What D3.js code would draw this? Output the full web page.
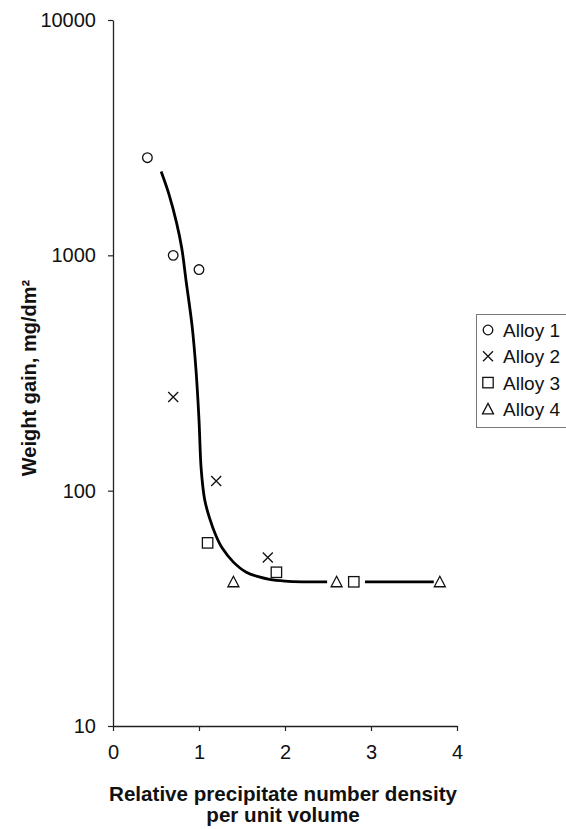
<!DOCTYPE html>
<html>
<head>
<meta charset="utf-8">
<script src="https://cdn.jsdelivr.net/npm/d3@7"></script>
<style>
  html, body { margin: 0; padding: 0; background: #fff; }
  svg { display: block; font-family: "Liberation Sans", Arial, sans-serif; }
</style>
</head>
<body>
<svg id="chart" width="566" height="829"></svg>
<script>
// ---- data ----
const seriesNames = ["Alloy 1", "Alloy 2", "Alloy 3", "Alloy 4"];
const alloy1X = [0.4, 0.7, 1.0];
const alloy1Y = [2600, 1000, 870];
const alloy2X = [0.7, 1.2, 1.8];
const alloy2Y = [250, 110, 52];
const alloy3X = [1.1, 1.9, 2.8];
const alloy3Y = [60, 45, 41];
const alloy4X = [1.4, 2.6, 3.8];
const alloy4Y = [41, 41, 41];
// fitted trend line, drawn in two pieces
const curve1X = [0.56, 0.65, 0.74, 0.80, 0.85, 0.92, 0.965, 1.0, 1.025, 1.065, 1.12, 1.2, 1.27, 1.4, 1.55, 1.7, 1.82, 2.0, 2.2, 2.49];
const curve1Y = [2270, 1820, 1370, 1070, 778, 500, 326, 200, 124, 92, 77, 64, 57, 49.7, 45, 43, 42, 41.3, 41, 41];
const curve2X = [2.93, 3.73];
const curve2Y = [41, 41];
const xTicks = [0, 1, 2, 3, 4];
const yTicks = [10, 100, 1000, 10000];
const xTitle1 = "Relative precipitate number density";
const xTitle2 = "per unit volume";
const yTitle = "Weight gain, mg/dm²";

// ---- layout ----
const svg = d3.select("#chart");
const x = d3.scaleLinear().domain([0, 4]).range([113, 457]);
const y = d3.scaleLog().domain([10, 10000]).range([726, 20]);

// axes
const xAxis = d3.axisBottom(x).tickValues(xTicks).tickFormat(d3.format("d")).tickSizeInner(5).tickSizeOuter(0).tickPadding(14);
const yAxis = d3.axisLeft(y).tickValues(yTicks).tickFormat(d3.format("d")).tickSizeInner(5).tickSizeOuter(0).tickPadding(12);

const gx = svg.append("g").attr("transform", `translate(0,${y(10)})`).call(xAxis);
const gy = svg.append("g").attr("transform", `translate(${x(0)},0)`).call(yAxis);
[gx, gy].forEach(g => {
  g.select(".domain").attr("stroke", "#222").attr("stroke-width", 1.3);
  g.selectAll(".tick line").attr("stroke", "#222").attr("stroke-width", 1.2);
  g.selectAll(".tick text").attr("fill", "#111").style("font-size", "20px").style("font-family", "'Liberation Sans', Arial, sans-serif");
});
gx.selectAll(".tick text").attr("dy", "0.71em");

// axis titles
svg.append("text").attr("x", 283).attr("y", 801).attr("text-anchor", "middle")
  .style("font-size", "20.6px").style("font-weight", "bold").attr("fill", "#111").text(xTitle1);
svg.append("text").attr("x", 283).attr("y", 822).attr("text-anchor", "middle")
  .style("font-size", "20.6px").style("font-weight", "bold").attr("fill", "#111").text(xTitle2);
svg.append("text").attr("transform", "translate(36,378) rotate(-90)").attr("text-anchor", "middle")
  .style("font-size", "20px").style("font-weight", "bold").attr("fill", "#111").text(yTitle);

// trend line
const line = d3.line().x(d => x(d[0])).y(d => y(d[1])).curve(d3.curveCatmullRom.alpha(0.5));
[[curve1X, curve1Y], [curve2X, curve2Y]].forEach(([cx, cy]) => {
  svg.append("path").datum(cx.map((v, i) => [v, cy[i]]))
    .attr("d", line).attr("fill", "none").attr("stroke", "#000").attr("stroke-width", 2.8);
});

// marker drawers
function drawMarker(g, type, px, py) {
  const s = "#111", w = 1.3;
  if (type === 0) {
    g.append("circle").attr("cx", px).attr("cy", py).attr("r", 4.8).attr("fill", "none").attr("stroke", s).attr("stroke-width", w);
  } else if (type === 1) {
    const h = 5;
    g.append("path").attr("d", `M${px-h},${py-h}L${px+h},${py+h}M${px-h},${py+h}L${px+h},${py-h}`)
      .attr("stroke", s).attr("stroke-width", w).attr("fill", "none");
  } else if (type === 2) {
    const h = 5.2;
    g.append("rect").attr("x", px-h).attr("y", py-h).attr("width", 2*h).attr("height", 2*h)
      .attr("fill", "#fff").attr("stroke", s).attr("stroke-width", w);
  } else {
    const h = 5.5;
    g.append("path").attr("d", `M${px},${py-h}L${px+h},${py+h*0.9}L${px-h},${py+h*0.9}Z`)
      .attr("fill", "#fff").attr("stroke", s).attr("stroke-width", w);
  }
}

const series = [[alloy1X, alloy1Y], [alloy2X, alloy2Y], [alloy3X, alloy3Y], [alloy4X, alloy4Y]];
const gm = svg.append("g");
series.forEach(([sx, sy], k) => {
  sx.forEach((v, i) => drawMarker(gm, k, x(v), y(sy[i])));
});

// legend
const lg = svg.append("g");
lg.append("rect").attr("x", 476.5).attr("y", 314.5).attr("width", 110).attr("height", 113)
  .attr("fill", "#fff").attr("stroke", "#777").attr("stroke-width", 1);
seriesNames.forEach((name, k) => {
  const cy = 330 + k * 26.3;
  drawMarker(lg, k, 488, cy);
  lg.append("text").attr("x", 503).attr("y", cy + 7).style("font-size", "19px").attr("fill", "#111").text(name);
});
</script>
</body>
</html>
